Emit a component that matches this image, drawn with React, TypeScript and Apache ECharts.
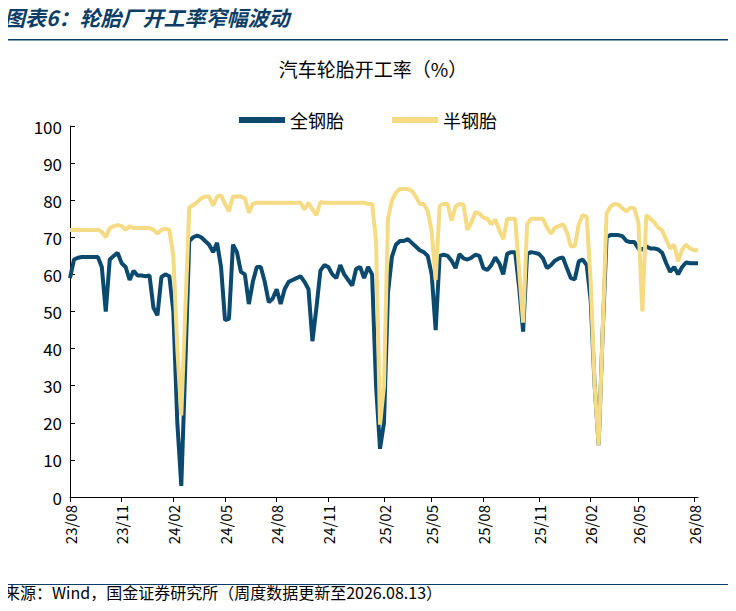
import { useEffect, useRef } from "react";
import * as echarts from "echarts";

// 全钢胎 weekly operating rate (%)
const allSteel = [
  59, 64, 64.5, 64.7, 64.7, 64.7, 64.7, 64.7, 62, 50,
  64, 65, 65.8, 63, 62, 58.5, 61, 59.7, 59.7, 59.5,
  59.7, 51, 49, 59.3, 60, 59.5, 50, 20, 3, 35,
  69, 70, 70.5, 70, 69, 68, 66, 68.5, 62, 47.7,
  48, 68, 66, 60.7, 60, 52, 58, 62, 62, 58,
  52.5, 53.5, 56, 52, 56, 58, 58.5, 59, 59.5, 58,
  56, 42, 51, 61, 62.5, 62, 60, 59, 62.5, 60,
  58.5, 57, 61.5, 62, 59, 62, 60, 30, 13, 20,
  55, 64.8, 68, 69, 69, 69.5, 68.5, 67.5, 66.5, 66,
  65, 60, 45, 65, 65.3, 65, 63.7, 61.7, 65.5, 64.3,
  64, 64.5, 65.3, 65, 61.7, 61.2, 62.5, 64.6, 63, 60,
  65.6, 66, 66, 56.5, 44.6, 65.5, 66, 65.8, 65.5, 64.3,
  61.7, 62.5, 63.7, 64.3, 64.6, 61.7, 59, 58.7, 63.5, 64,
  62.5, 53, 30, 14, 44, 70, 70.6, 70.6, 70.6, 70.3,
  69, 68.7, 68.7, 67, 66.7, 67.5, 67, 67, 66.7, 65.8,
  63, 60.7, 62, 60, 62, 63.2, 63, 63, 63,
];

// 半钢胎 weekly operating rate (%)
const semiSteel = [
  72, 72, 72, 72, 72, 72, 72, 72, 71.5, 70,
  72.5, 73, 73.3, 73, 72, 73, 72.5, 72.5, 72.5, 72.5,
  72.5, 72, 71, 72, 72.3, 72, 65, 40, 22, 50,
  78, 78.7, 79.5, 80.5, 81, 81, 78.5, 81, 81.3, 79,
  77, 81, 81, 81, 80.5, 76.6, 79, 79.3, 79.3, 79.3,
  79.3, 79.3, 79.3, 79.3, 79.3, 79.3, 79.3, 79.3, 79.3, 77.5,
  79.3, 77.5, 76, 79.5, 79.3, 79.3, 79.3, 79.3, 79.3, 79.3,
  79.3, 79.3, 79.3, 79.3, 79.3, 79, 79, 69, 19.5, 30,
  75, 80, 82, 83, 83, 83, 82.5, 81, 79, 79,
  77, 71.5, 58.5, 78.5, 79, 79, 74.5, 78.3, 79, 78.8,
  72, 74, 76.8, 76.4, 75.3, 75, 73.5, 74.8, 72, 69.5,
  75, 75, 75, 61, 47, 73.5, 75, 75, 75, 75,
  72.6, 71, 72.6, 73, 73.5, 71.5, 67.6, 67.6, 73.5, 76,
  75.5, 58, 30, 14, 44, 76.5, 78.3, 79, 78.8, 77.8,
  77, 78, 77.8, 74, 50, 76, 75, 74, 72.6, 71.8,
  69.3, 67, 68, 63.5, 66.7, 68, 67, 66.5, 66.5,
];

const yTicks = [0, 10, 20, 30, 40, 50, 60, 70, 80, 90, 100];

// weekly dates starting 2023-08-04
const dates = allSteel.map((_, i) => {
  const d = new Date(Date.UTC(2023, 7, 4 + i * 7));
  const yy = String(d.getUTCFullYear()).slice(2);
  const mm = String(d.getUTCMonth() + 1).padStart(2, "0");
  return yy + "/" + mm;
});

const isQuarterStart = (i: number) => {
  const m = Number(dates[i].slice(3));
  if (m % 3 !== 2) return false;
  return i === 0 || dates[i - 1] !== dates[i];
};

const FONT = "'Noto Sans CJK SC', 'Noto Sans', sans-serif";

const App = () => {
  const chartRef = useRef<HTMLDivElement>(null);

  useEffect(() => {
    if (!chartRef.current) return;
    const chart = echarts.init(chartRef.current, undefined, { renderer: "svg" });
    chart.setOption({
      animation: false,
      backgroundColor: "#fff",
      title: {
        text: "汽车轮胎开工率（%）",
        left: 368,
        textAlign: "center",
        top: 54,
        textStyle: { fontSize: 19, fontWeight: "normal", color: "#000", fontFamily: FONT },
      },
      legend: {
        top: 106,
        left: "center",
        itemWidth: 46,
        itemHeight: 6,
        itemGap: 48,
        icon: "rect",
        textStyle: { fontSize: 18, color: "#000", fontFamily: FONT },
        data: ["全钢胎", "半钢胎"],
      },
      grid: { left: 70, right: 38, top: 126, bottom: 114, containLabel: false },
      xAxis: {
        type: "category",
        data: dates,
        boundaryGap: false,
        axisLine: { lineStyle: { color: "#000", width: 1 } },
        axisTick: { interval: (i: number) => isQuarterStart(i), length: 5, lineStyle: { color: "#000" } },
        axisLabel: {
          interval: (i: number) => isQuarterStart(i),
          rotate: 90,
          fontSize: 15,
          color: "#000",
          fontFamily: FONT,
          margin: 8,
        },
      },
      yAxis: {
        type: "value",
        min: 0,
        max: 100,
        interval: 10,
        splitLine: { show: false },
        axisLine: { show: true, lineStyle: { color: "#000" } },
        axisTick: { show: true, inside: true, length: 5, lineStyle: { color: "#000" } },
        axisLabel: {
          fontSize: 17,
          color: "#000",
          fontFamily: FONT,
          formatter: (v: number) => (yTicks.includes(v) ? String(v) : ""),
        },
      },
      series: [
        {
          name: "全钢胎",
          type: "line",
          data: allSteel,
          showSymbol: false,
          lineStyle: { width: 4, color: "#0B4A6E" },
          itemStyle: { color: "#0B4A6E" },
        },
        {
          name: "半钢胎",
          type: "line",
          data: semiSteel,
          showSymbol: false,
          lineStyle: { width: 4, color: "#F5DC84" },
          itemStyle: { color: "#F5DC84" },
        },
      ],
      graphic: [
        {
          type: "text",
          left: 4,
          top: 6,
          style: {
            text: "图表6：轮胎厂开工率窄幅波动",
            font: "italic bold 21px 'Noto Sans CJK SC', sans-serif",
            fill: "#0B3E66",
          },
        },
        {
          type: "rect",
          shape: { x: 0, y: 39, width: 736, height: 1.5 },
          style: { fill: "#0B3E66" },
        },
        {
          type: "rect",
          shape: { x: 0, y: 584, width: 736, height: 1 },
          style: { fill: "#0B3E66" },
        },
        {
          type: "text",
          left: 4,
          top: 584,
          style: {
            text: "来源：Wind，国金证券研究所（周度数据更新至2026.08.13）",
            font: "16px 'Noto Sans CJK SC', sans-serif",
            fill: "#000",
            letterSpacing: 1,
          },
        },
      ],
    });
    return () => chart.dispose();
  }, []);

  return <div ref={chartRef} style={{ width: 736, height: 611, margin: -8 }} />;
};

export default App;
